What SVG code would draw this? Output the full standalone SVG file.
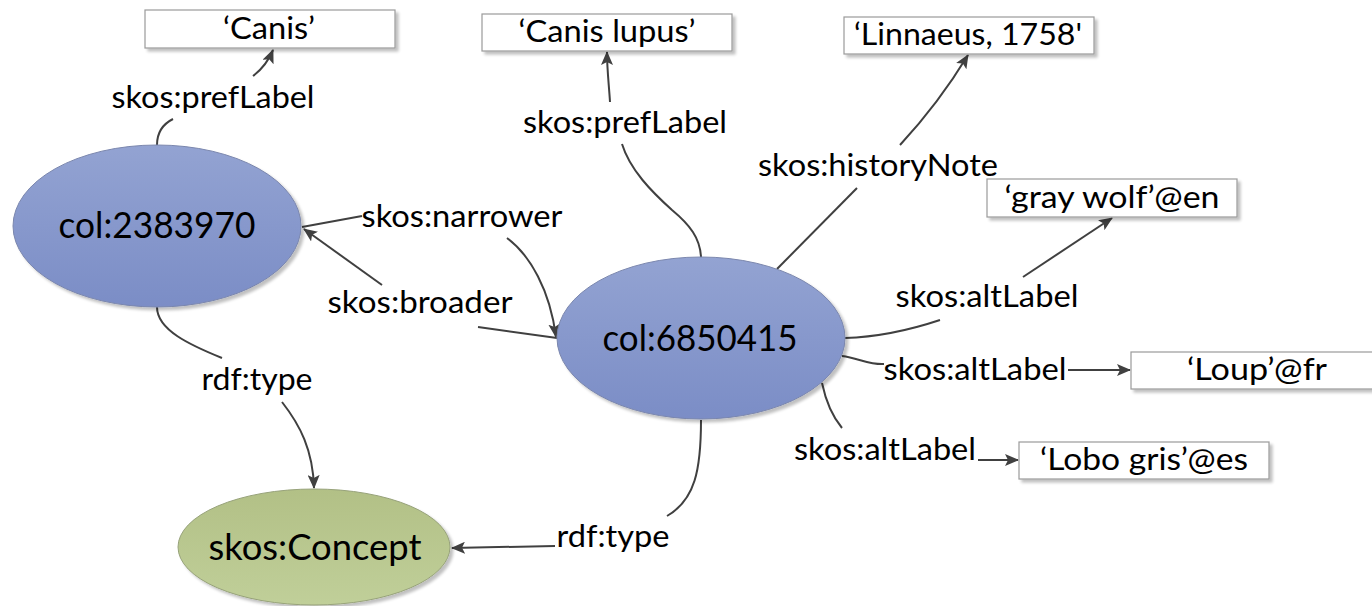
<svg xmlns="http://www.w3.org/2000/svg" width="1372" height="606" viewBox="0 0 1372 606">
  <style>
    .edge { fill: none; stroke: #404040; stroke-width: 2; }
    .lbl { font-family: Lato, "Open Sans", sans-serif; font-size: 30px; fill: #000; text-anchor: middle; }
    .ntxt { font-family: Lato, "Open Sans", sans-serif; font-size: 36px; fill: #000; text-anchor: middle; }
    .lit { fill: #fff; stroke: #9a9a9a; stroke-width: 1.2; }
    .res { fill: url(#blueFill); stroke: #7a86ad; stroke-width: 1; }
    .cls { fill: url(#greenFill); stroke: #97a27a; stroke-width: 1; }
  </style>
  <defs>
    <linearGradient id="blueFill" x1="0" y1="0" x2="0" y2="1">
      <stop offset="0" stop-color="#93a3d2"/>
      <stop offset="1" stop-color="#7b8dc6"/>
    </linearGradient>
    <linearGradient id="greenFill" x1="0" y1="0" x2="0" y2="1">
      <stop offset="0" stop-color="#b2c086"/>
      <stop offset="1" stop-color="#c0cf99"/>
    </linearGradient>
    <filter id="shadow" x="-10%" y="-10%" width="125%" height="130%">
      <feGaussianBlur in="SourceAlpha" stdDeviation="1.5"/>
      <feOffset dx="3" dy="3" result="off"/>
      <feComponentTransfer><feFuncA type="linear" slope="0.25"/></feComponentTransfer>
      <feMerge><feMergeNode/><feMergeNode in="SourceGraphic"/></feMerge>
    </filter>
    <marker id="arrow" viewBox="0 0 14 12" refX="13" refY="6" markerWidth="14" markerHeight="12" markerUnits="userSpaceOnUse" orient="auto">
      <path d="M0,0 L14,6 L0,12 L3,6 z" fill="#404040"/>
    </marker>
  </defs>

  <rect width="1372" height="606" fill="#fff"/>

  <!-- connectors: each edge is drawn as two pieces around its label -->
  <g id="connectors">
    <!-- col:2383970 skos:prefLabel 'Canis' -->
    <path class="edge" d="M157,145 C157,132 163,124 173,119"/>
    <path class="edge" d="M253,76 C261,70 268,62 273,50" marker-end="url(#arrow)"/>
    <!-- col:6850415 skos:prefLabel 'Canis lupus' -->
    <path class="edge" d="M701,257 C700,238 690,225 672,210 C652,192 630,170 622,144"/>
    <path class="edge" d="M610,102 C609,85 607,70 607,52" marker-end="url(#arrow)"/>
    <!-- col:6850415 skos:historyNote -->
    <path class="edge" d="M777,269 L857,188"/>
    <path class="edge" d="M900,145 C925,118 948,88 968,55" marker-end="url(#arrow)"/>
    <!-- altLabel @en -->
    <path class="edge" d="M845,338 C880,337 910,330 940,320"/>
    <path class="edge" d="M1023,277 L1112,218" marker-end="url(#arrow)"/>
    <!-- altLabel @fr -->
    <path class="edge" d="M842,356 C858,358 870,365 884,364"/>
    <path class="edge" d="M1068,370 L1130,370" marker-end="url(#arrow)"/>
    <!-- altLabel @es -->
    <path class="edge" d="M822,383 C826,402 832,416 842,428"/>
    <path class="edge" d="M978,460 L1018,460" marker-end="url(#arrow)"/>
    <!-- col:6850415 rdf:type skos:Concept -->
    <path class="edge" d="M701,420 C701,470 695,500 667,516"/>
    <path class="edge" d="M555,546 L452,548" marker-end="url(#arrow)"/>
    <!-- col:2383970 rdf:type skos:Concept -->
    <path class="edge" d="M157,307 C157,330 190,345 222,358"/>
    <path class="edge" d="M282,402 C300,425 313,450 314,488" marker-end="url(#arrow)"/>
    <!-- skos:narrower -->
    <path class="edge" d="M362,216 L302,227"/>
    <path class="edge" d="M507,238 C530,255 550,290 556,337" marker-end="url(#arrow)"/>
    <!-- skos:broader -->
    <path class="edge" d="M557,338 L478,327"/>
    <path class="edge" d="M382,285 L304,229" marker-end="url(#arrow)"/>

    <text class="lbl" x="213" y="108" textLength="203" lengthAdjust="spacingAndGlyphs">skos:prefLabel</text>
    <text class="lbl" x="625" y="133" textLength="204" lengthAdjust="spacingAndGlyphs">skos:prefLabel</text>
    <text class="lbl" x="878" y="176" textLength="240" lengthAdjust="spacingAndGlyphs">skos:historyNote</text>
    <text class="lbl" x="462" y="227" textLength="201" lengthAdjust="spacingAndGlyphs">skos:narrower</text>
    <text class="lbl" x="420" y="313" textLength="185" lengthAdjust="spacingAndGlyphs">skos:broader</text>
    <text class="lbl" x="987" y="307" textLength="183" lengthAdjust="spacingAndGlyphs">skos:altLabel</text>
    <text class="lbl" x="975" y="380" textLength="183" lengthAdjust="spacingAndGlyphs">skos:altLabel</text>
    <text class="lbl" x="885" y="460" textLength="182" lengthAdjust="spacingAndGlyphs">skos:altLabel</text>
    <text class="lbl" x="257" y="390" textLength="111" lengthAdjust="spacingAndGlyphs">rdf:type</text>
    <text class="lbl" x="613" y="547" textLength="113" lengthAdjust="spacingAndGlyphs">rdf:type</text>
  </g>

  <!-- resource nodes -->
  <g id="n-col2383970">
    <ellipse class="res" cx="157" cy="226" rx="144" ry="81" filter="url(#shadow)"/>
    <text class="ntxt" x="157" y="238" textLength="197" lengthAdjust="spacingAndGlyphs">col:2383970</text>
  </g>
  <g id="n-col6850415">
    <ellipse class="res" cx="701" cy="338" rx="144" ry="81" filter="url(#shadow)"/>
    <text class="ntxt" x="700" y="351" textLength="195" lengthAdjust="spacingAndGlyphs">col:6850415</text>
  </g>
  <g id="n-concept">
    <ellipse class="cls" cx="314" cy="547" rx="136" ry="58" filter="url(#shadow)"/>
    <text class="ntxt" x="315" y="560" textLength="213" lengthAdjust="spacingAndGlyphs">skos:Concept</text>
  </g>

  <!-- literal nodes -->
  <g id="n-canis">
    <rect class="lit" x="145" y="10" width="250" height="38" filter="url(#shadow)"/>
    <text class="lbl" x="269" y="39" textLength="92" lengthAdjust="spacingAndGlyphs">‘Canis’</text>
  </g>
  <g id="n-canis-lupus">
    <rect class="lit" x="482" y="14" width="250" height="37" filter="url(#shadow)"/>
    <text class="lbl" x="607" y="42" textLength="177" lengthAdjust="spacingAndGlyphs">‘Canis lupus’</text>
  </g>
  <g id="n-linnaeus">
    <rect class="lit" x="844" y="17" width="250" height="37" filter="url(#shadow)"/>
    <text class="lbl" x="968" y="45" textLength="228" lengthAdjust="spacingAndGlyphs">‘Linnaeus, 1758'</text>
  </g>
  <g id="n-graywolf">
    <rect class="lit" x="987" y="179" width="250" height="38" filter="url(#shadow)"/>
    <text class="lbl" x="1112" y="208" textLength="215" lengthAdjust="spacingAndGlyphs">‘gray wolf’@en</text>
  </g>
  <g id="n-loup">
    <rect class="lit" x="1131" y="352" width="250" height="37" filter="url(#shadow)"/>
    <text class="lbl" x="1257" y="380" textLength="140" lengthAdjust="spacingAndGlyphs">‘Loup’@fr</text>
  </g>
  <g id="n-lobogris">
    <rect class="lit" x="1019" y="442" width="250" height="37" filter="url(#shadow)"/>
    <text class="lbl" x="1144" y="470" textLength="208" lengthAdjust="spacingAndGlyphs">‘Lobo gris’@es</text>
  </g>
</svg>
